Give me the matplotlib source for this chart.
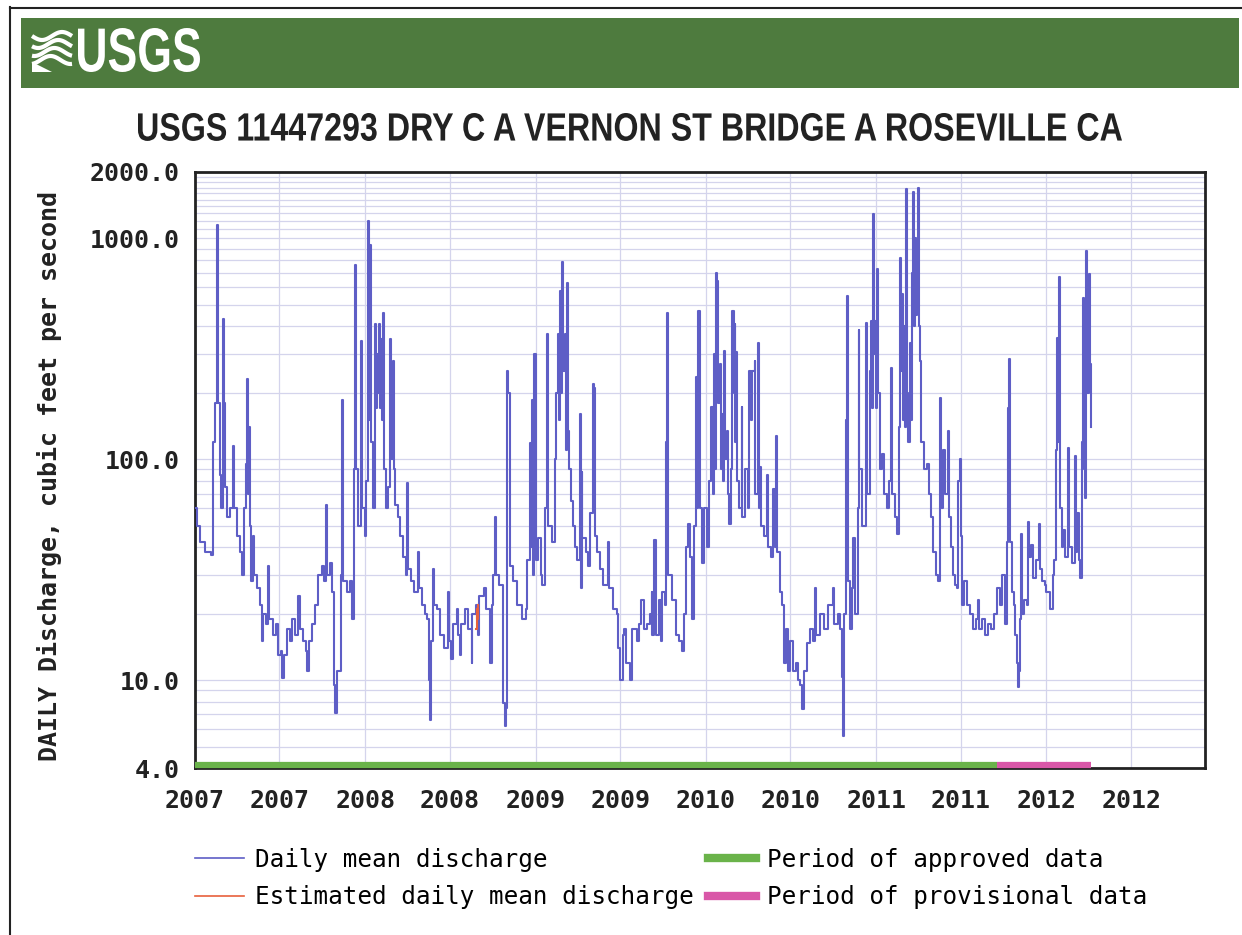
import numpy as np
import pandas as pd
import matplotlib
matplotlib.use('Agg')
import matplotlib.pyplot as plt
from matplotlib.lines import Line2D
from matplotlib.patches import PathPatch
from matplotlib.textpath import TextPath
from matplotlib.font_manager import FontProperties
from matplotlib.transforms import Affine2D
from matplotlib.ticker import FixedLocator, FixedFormatter, NullFormatter

# daily mean discharge (cfs), month-day per calendar year
days_2007 = ['01-01', '01-05', '01-12', '01-22', '02-04', '02-09', '02-13', '02-17', '02-19', '02-24',
             '02-26', '03-02', '03-04', '03-06', '03-11', '03-17', '03-23', '03-26', '04-01', '04-07',
             '04-12', '04-16', '04-20', '04-22', '04-25', '04-27', '04-29', '05-01', '05-05', '05-07',
             '05-14', '05-20', '05-25', '05-27', '06-02', '06-06', '06-09', '06-17', '06-23', '06-28',
             '07-04', '07-06', '07-11', '07-17', '07-23', '07-28', '08-03', '08-10', '08-14', '08-20',
             '08-27', '08-29', '09-02', '09-09', '09-15', '09-21', '09-30', '10-04', '10-09', '10-11',
             '10-17', '10-21', '10-26', '10-28', '11-01', '11-10', '11-12', '11-14', '11-23', '11-29',
             '12-03', '12-08', '12-10', '12-12', '12-16', '12-23', '12-25', '12-31']
cfs_2007 = [60, 50, 42, 38, 37, 120, 180, 1150, 180, 85,
            60, 430, 180, 75, 55, 60, 115, 60, 45, 38,
            30, 60, 95, 230, 70, 140, 50, 28, 45, 30,
            26, 22, 15, 20, 18, 33, 19, 16, 18, 13,
            13.5, 10.2, 13, 17, 15, 19, 16, 24, 17, 15,
            13.5, 11, 15, 18, 22, 30, 33, 28, 62, 30,
            34, 25, 9.5, 7.1, 11, 30, 185, 28, 25, 28,
            19, 90, 760, 90, 50, 345, 60, 45]

days_2008 = ['01-02', '01-07', '01-09', '01-11', '01-13', '01-17', '01-22', '01-24', '01-26', '01-28',
             '01-30', '02-01', '02-03', '02-05', '02-08', '02-10', '02-14', '02-18', '02-23', '02-25',
             '02-29', '03-02', '03-04', '03-11', '03-15', '03-21', '03-28', '03-30', '04-01', '04-08',
             '04-14', '04-23', '04-25', '05-01', '05-08', '05-12', '05-16', '05-18', '05-21', '05-25',
             '05-27', '06-02', '06-09', '06-17', '06-26', '06-28', '07-02', '07-07', '07-15', '07-17',
             '07-22', '07-24', '08-01', '08-08', '08-16', '08-18', '08-25', '08-29', '09-02', '09-11',
             '09-17', '09-24', '09-28', '10-02', '10-05', '10-07', '10-15', '10-22', '10-26', '10-30',
             '11-01', '11-03', '11-06', '11-14', '11-21', '12-02', '12-10', '12-14', '12-19', '12-21',
             '12-23', '12-25', '12-29']
cfs_2008 = [80, 1200, 150, 930, 120, 60, 410, 170, 300, 200,
            410, 170, 350, 150, 460, 90, 60, 75, 350, 100,
            280, 90, 62, 55, 45, 36, 30, 78, 32, 28,
            25, 38, 26, 22, 20, 19, 10, 6.6, 15, 32,
            22, 21, 16, 14, 25, 15, 12.5, 18, 21, 16,
            13, 18, 21, 17, 12, 20, 22, 16, 24, 26,
            21, 12, 22, 30, 55, 30, 27, 7.9, 6.2, 7.5,
            250, 200, 33, 28, 22, 19, 21, 35, 118, 40,
            185, 30, 300]

days_2009 = ['01-01', '01-05', '01-11', '01-15', '01-20', '01-24', '01-26', '01-28', '02-04', '02-10',
             '02-14', '02-17', '02-19', '02-21', '02-23', '02-25', '02-27', '03-01', '03-04', '03-06',
             '03-08', '03-10', '03-12', '03-17', '03-21', '03-27', '03-31', '04-05', '04-07', '04-09',
             '04-11', '04-18', '04-22', '04-28', '05-03', '05-05', '05-07', '05-13', '05-18', '05-26',
             '06-04', '06-06', '06-15', '06-23', '06-27', '07-01', '07-06', '07-10', '07-14', '07-21',
             '07-27', '08-05', '08-11', '08-15', '08-20', '08-28', '09-02', '09-06', '09-08', '09-12',
             '09-15', '09-23', '09-27', '09-29', '10-04', '10-08', '10-10', '10-12', '10-21', '10-29',
             '11-05', '11-11', '11-15', '11-20', '11-24', '11-28', '12-02', '12-07', '12-11', '12-13',
             '12-15', '12-18', '12-24', '12-28']
cfs_2009 = [35, 44, 30, 27, 60, 370, 130, 50, 42, 100,
            200, 370, 150, 580, 200, 370, 780, 250, 370, 110,
            630, 135, 90, 65, 50, 40, 35, 160, 26, 88,
            44, 38, 33, 57, 220, 210, 45, 38, 32, 27,
            42, 26, 21, 20, 14, 10, 16, 17, 12, 10,
            17, 15, 18, 23, 17, 18, 20, 25, 16, 43,
            16, 23, 15, 25, 22, 120, 460, 30, 23, 16,
            15, 13.5, 20, 40, 51, 36, 19, 50, 235, 60,
            470, 60, 34, 60]

days_2010 = ['01-02', '01-08', '01-12', '01-15', '01-19', '01-21', '01-23', '01-25', '01-27', '01-30',
             '02-01', '02-05', '02-07', '02-09', '02-11', '02-14', '02-18', '02-20', '02-24', '02-26',
             '03-01', '03-03', '03-05', '03-07', '03-09', '03-13', '03-18', '03-20', '03-26', '03-31',
             '04-04', '04-08', '04-10', '04-15', '04-17', '04-23', '04-25', '04-27', '04-29', '05-05',
             '05-12', '05-14', '05-21', '05-25', '05-29', '06-01', '06-03', '06-09', '06-13', '06-18',
             '06-22', '06-26', '06-30', '07-07', '07-13', '07-18', '07-22', '07-26', '07-30', '08-06',
             '08-12', '08-19', '08-23', '08-25', '09-03', '09-11', '09-20', '10-01', '10-03', '10-11',
             '10-16', '10-20', '10-22', '10-24', '10-29', '10-31', '11-02', '11-06', '11-11', '11-13',
             '11-17', '11-22', '11-24', '11-26', '12-02', '12-11', '12-13', '12-19', '12-21', '12-23',
             '12-26', '12-28', '12-30']
cfs_2010 = [40, 80, 172, 70, 300, 90, 700, 640, 180, 270,
            90, 160, 80, 310, 100, 135, 70, 51, 90, 470,
            200, 410, 120, 305, 80, 60, 172, 55, 90, 60,
            250, 150, 250, 280, 70, 335, 60, 92, 50, 45,
            85, 40, 36, 73, 40, 127, 38, 25, 22, 12,
            17, 11, 15, 11, 12, 10, 9.5, 7.4, 11, 14.7,
            17, 15, 26, 16, 20, 17, 22, 26, 18, 20,
            17, 10.3, 5.6, 20, 150, 550, 28, 17, 26, 44,
            20, 60, 385, 90, 50, 415, 70, 250, 425, 170,
            1290, 300, 425]

days_2011 = ['01-01', '01-03', '01-05', '01-09', '01-14', '01-18', '01-24', '01-29', '02-02', '02-04',
             '02-11', '02-15', '02-19', '02-21', '02-23', '02-25', '02-28', '03-02', '03-04', '03-06',
             '03-08', '03-10', '03-15', '03-17', '03-19', '03-21', '03-23', '03-25', '03-27', '03-30',
             '04-01', '04-03', '04-05', '04-07', '04-14', '04-20', '04-24', '04-28', '05-03', '05-09',
             '05-13', '05-18', '05-20', '05-24', '05-28', '06-04', '06-06', '06-10', '06-14', '06-19',
             '06-23', '06-25', '06-29', '07-01', '07-03', '07-08', '07-14', '07-21', '07-27', '08-02',
             '08-07', '08-09', '08-16', '08-22', '08-28', '09-04', '09-10', '09-17', '09-23', '09-27',
             '10-04', '10-08', '10-10', '10-12', '10-15', '10-19', '10-23', '10-25', '10-30', '11-01',
             '11-03', '11-05', '11-07', '11-09', '11-14', '11-20', '11-22', '11-24', '11-29', '12-03',
             '12-09', '12-16', '12-18', '12-22', '12-28']
cfs_2011 = [170, 730, 200, 90, 106, 70, 60, 80, 260, 70,
            55, 46, 140, 815, 250, 560, 150, 400, 140, 1680,
            200, 120, 335, 150, 700, 1620, 400, 1000, 450, 900,
            1700, 400, 280, 120, 90, 95, 70, 55, 38, 30,
            28, 190, 60, 110, 70, 135, 55, 40, 30, 27,
            26, 80, 100, 45, 22, 28, 22, 20, 17, 19,
            23, 17, 19, 16, 18, 17, 20, 26, 22, 30,
            18, 42, 170, 285, 42, 25, 22, 16, 12, 9.3,
            11, 19, 46, 20, 23, 22, 52, 36, 41, 29,
            35, 51, 32, 28, 27]

days_2012 = ['01-01', '01-08', '01-14', '01-18', '01-21', '01-23', '01-25', '01-27', '01-29', '02-03',
             '02-05', '02-09', '02-16', '02-18', '02-24', '03-02', '03-04', '03-06', '03-10', '03-13',
             '03-17', '03-19', '03-21', '03-23', '03-25', '03-28', '04-01', '04-03', '04-05']
cfs_2012 = [25, 21, 30, 35, 110, 355, 120, 670, 60, 40,
            48, 36, 113, 40, 34, 103, 38, 57, 35, 29,
            120, 535, 90, 67, 880, 200, 690, 270, 140]

# estimated daily values
est_dates = ['2008-08-26', '2008-08-27', '2008-08-28', '2008-08-30']
est_cfs = [17, 21, 19, 22]

approved_period = ['2007-01-01', '2011-09-18']
provisional_period = ['2011-09-18', '2012-04-06']

tick_dates = ['2007-01-01', '2007-07-01', '2008-01-01', '2008-07-01', '2009-01-01', '2009-07-01',
              '2010-01-01', '2010-07-01', '2011-01-01', '2011-07-01', '2012-01-01', '2012-07-01']
y_ticks = [4, 10, 100, 1000, 2000]

title = 'USGS 11447293 DRY C A VERNON ST BRIDGE A ROSEVILLE CA'
ylabel = 'DAILY Discharge, cubic feet per second'

years = {2007: (days_2007, cfs_2007), 2008: (days_2008, cfs_2008), 2009: (days_2009, cfs_2009),
         2010: (days_2010, cfs_2010), 2011: (days_2011, cfs_2011), 2012: (days_2012, cfs_2012)}
t = pd.to_datetime([f'{y}-{d}' for y, (dd, _) in years.items() for d in dd])
q = np.concatenate([np.array(v, dtype=float) for _, v in years.values()])

W, H = 1242, 935
blue = '#5e5ec6'
red = '#e8603c'
green = '#6ab34a'
pink = '#d957a8'
grid_c = '#d4d4ec'
mono = 'DejaVu Sans Mono'


def boxed_text(ax, s, x0, x1, ytop, ybot, **kw):
    # text squeezed into a pixel box (the original uses a condensed face)
    tp = TextPath((0, 0), s, size=100, prop=FontProperties(family='Liberation Sans', weight='bold'))
    bb = tp.get_extents()
    tr = Affine2D().translate(-bb.x0, -bb.y0).scale((x1 - x0) / bb.width, -(ybot - ytop) / bb.height)
    tr = tr.translate(x0, ybot)
    ax.add_patch(PathPatch(tr.transform_path(tp), lw=0, **kw))


fig = plt.figure(figsize=(W / 100, H / 100), dpi=100)

# pixel-space overlay for the page decoration
oax = fig.add_axes([0, 0, 1, 1])
oax.set_xlim(0, W)
oax.set_ylim(H, 0)
oax.set_axis_off()
oax.plot([10, 10], [7, H], color='#222222', lw=1.5)
oax.plot([10, W], [8, 8], color='#222222', lw=1.5)
oax.fill([21, 1239, 1239, 21], [18, 18, 88, 88], color='#4e7b3e', lw=0)
wx = np.linspace(32, 72, 60)
for k, y0 in enumerate([36, 44, 52, 60]):
    oax.plot(wx, y0 + 4 * np.sin((wx - 32) / 40 * 2 * np.pi + 0.6 * k), color='white', lw=3,
             solid_capstyle='butt')
oax.fill([32, 32, 52], [62, 72, 72], color='white', lw=0)
boxed_text(oax, 'USGS', 78, 200, 28, 72, color='white')
boxed_text(oax, title, 138, 1122, 113, 141, color='#222222')

ax = fig.add_axes([195 / W, 1 - 768 / H, 1010 / W, 596 / H])
ax.set_yscale('log')
ax.set_ylim(4, 2000)
ax.set_xlim(pd.Timestamp('2007-01-01'), pd.Timestamp('2012-12-06'))

ax.plot(t, q, drawstyle='steps-post', color=blue, lw=1.5, zorder=3)
ax.plot(pd.to_datetime(est_dates), est_cfs, drawstyle='steps-post', color=red, lw=1.5, zorder=4)

xt = ax.get_xaxis_transform()
ax.plot(pd.to_datetime(approved_period), [0.005, 0.005], transform=xt, color=green, lw=4.5,
        solid_capstyle='butt', clip_on=False, zorder=5)
ax.plot(pd.to_datetime(provisional_period), [0.005, 0.005], transform=xt, color=pink, lw=4.5,
        solid_capstyle='butt', clip_on=False, zorder=5)

ax.yaxis.set_major_locator(FixedLocator(y_ticks))
ax.yaxis.set_major_formatter(FixedFormatter([f'{v:.1f}' for v in y_ticks]))
minor = list(range(5, 10)) + list(range(20, 100, 10)) + list(range(200, 1000, 100)) + \
    list(range(1100, 2000, 100))
ax.yaxis.set_minor_locator(FixedLocator(minor))
ax.yaxis.set_minor_formatter(NullFormatter())
ax.set_xticks(pd.to_datetime(tick_dates))
ax.set_xticklabels([d[:4] for d in tick_dates])
ax.xaxis.set_minor_locator(FixedLocator([]))

ax.grid(which='both', color=grid_c, lw=0.9)
ax.set_axisbelow(True)
ax.tick_params(which='both', length=0)
ax.tick_params(axis='y', pad=11)
ax.tick_params(axis='x', pad=15)
for lab in ax.get_xticklabels() + ax.get_yticklabels():
    lab.set_family(mono)
    lab.set_fontweight('bold')
    lab.set_fontsize(18)
    lab.set_color('#222222')
for s in ax.spines.values():
    s.set_linewidth(2)
    s.set_color('#222222')

ax.set_ylabel(ylabel, family=mono, fontweight='bold', fontsize=18, color='#222222')
ax.yaxis.set_label_coords(-0.132, 0.49)

handles = [Line2D([], [], color=blue, lw=1.2), Line2D([], [], color=red, lw=1.2),
           Line2D([], [], color=green, lw=6), Line2D([], [], color=pink, lw=6)]
labels = ['Daily mean discharge', 'Estimated daily mean discharge',
          'Period of approved data', 'Period of provisional data']
fig.legend(handles, labels, ncol=2, loc='upper left', bbox_to_anchor=(195 / W, 1 - 848 / H),
           frameon=False, borderpad=0, borderaxespad=0, handlelength=2.0, handletextpad=0.45,
           columnspacing=0.6, labelspacing=0.55,
           prop=FontProperties(family=mono, size=17.5))

fig.savefig('out.png', dpi=100)
